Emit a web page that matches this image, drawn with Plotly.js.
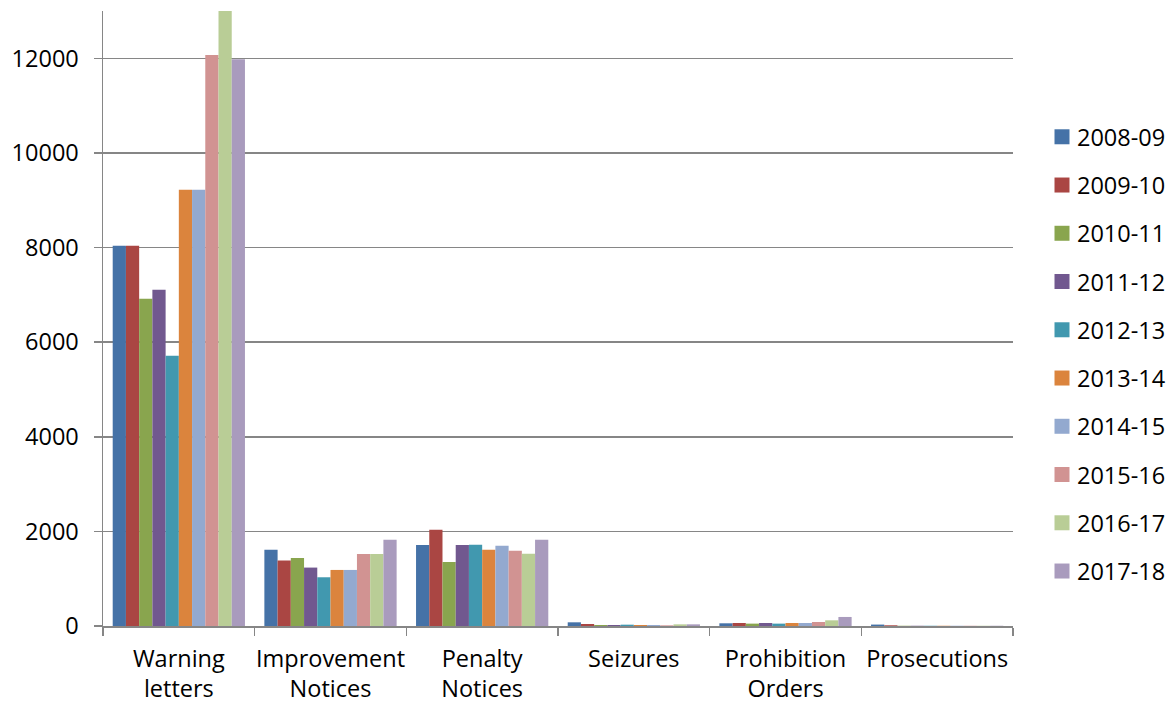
<!DOCTYPE html>
<html>
<head>
<meta charset="utf-8">
<script src="https://cdn.plot.ly/plotly-3.0.1.min.js"></script>
<style>html,body{margin:0;padding:0;background:#fff;}#chart{width:1173px;height:704px;}</style>
</head>
<body>
<div id="chart"></div>
<script>
// Categories (x axis tick labels)
var categories = ["Warning<br>letters", "Improvement<br>Notices", "Penalty<br>Notices", "Seizures", "Prohibition<br>Orders", "Prosecutions"];
// Series names
var years = ["2008-09", "2009-10", "2010-11", "2011-12", "2012-13", "2013-14", "2014-15", "2015-16", "2016-17", "2017-18"];
// Values per year, in category order
var v2008_09 = [8040, 1610, 1710, 78, 57, 30];
var v2009_10 = [8040, 1385, 2035, 42, 64, 15];
var v2010_11 = [6920, 1440, 1355, 21, 50, 5];
var v2011_12 = [7110, 1235, 1710, 21, 64, 5];
var v2012_13 = [5710, 1030, 1715, 28, 50, 5];
var v2013_14 = [9220, 1185, 1610, 21, 64, 5];
var v2014_15 = [9220, 1185, 1695, 21, 64, 5];
var v2015_16 = [12070, 1520, 1590, 14, 85, 5];
var v2016_17 = [13300, 1520, 1525, 35, 120, 5];
var v2017_18 = [11980, 1825, 1825, 35, 191, 5];
// Y axis ticks
var yTicks = [0, 2000, 4000, 6000, 8000, 10000, 12000];

var seriesValues = [v2008_09, v2009_10, v2010_11, v2011_12, v2012_13, v2013_14, v2014_15, v2015_16, v2016_17, v2017_18];
var colors = ["#4572A7", "#AA4643", "#89A54E", "#71588F", "#4198AF", "#DB843D", "#93A9CF", "#D19392", "#B9CD96", "#A99BBD"];

var font = "Open Sans, Liberation Sans, sans-serif";
var fs = 23.5;

var traces = years.map(function (yr, i) {
  return {
    type: "bar",
    name: yr,
    x: categories,
    y: seriesValues[i],
    legendgroup: yr,
    marker: { color: colors[i], line: { width: 0 } },
    hoverinfo: "x+y+name"
  };
});

var layout = {
  width: 1173,
  height: 704,
  paper_bgcolor: "#fff",
  plot_bgcolor: "#fff",
  margin: { l: 103, r: 160, t: 11, b: 78, pad: 0 },
  barmode: "group",
  bargap: 0.128,
  bargroupgap: 0,
  font: { family: font, size: fs, color: "#000" },
  showlegend: true,
  legend: {
    xref: "container",
    yref: "container",
    x: 1037 / 1173,
    y: 1 - 115 / 704,
    xanchor: "left",
    yanchor: "top",
    maxheight: 700,
    tracegroupgap: 14.7,
    font: { family: font, size: fs, color: "#000" },
    bgcolor: "rgba(0,0,0,0)",
    borderwidth: 0
  },
  xaxis: {
    type: "category",
    showgrid: false,
    showline: true,
    linecolor: "#868686",
    linewidth: 1.5,
    ticks: "outside",
    tickson: "boundaries",
    tickangle: 0,
    ticklen: 8,
    tickwidth: 1.5,
    tickcolor: "#868686",
    ticklabelstandoff: 11,
    tickfont: { family: font, size: fs, color: "#000" },
    zeroline: false
  },
  yaxis: {
    range: [0, 13000],
    tickvals: yTicks,
    ticktext: yTicks.map(String),
    showgrid: true,
    gridcolor: "#868686",
    gridwidth: 1.5,
    showline: true,
    linecolor: "#868686",
    linewidth: 1.5,
    ticks: "outside",
    ticklen: 8,
    tickwidth: 1.5,
    tickcolor: "#868686",
    ticklabelstandoff: 10,
    tickfont: { family: font, size: fs, color: "#000" },
    zeroline: false,
    fixedrange: true
  }
};

Plotly.newPlot("chart", traces, layout, { displayModeBar: false, staticPlot: true }).then(function (gd) {
  var pts = gd.querySelectorAll(".legend .legendpoints path");
  pts.forEach(function (p) {
    p.setAttribute("d", "M12.5,7.5H-2.5V-7.5H12.5Z");
  });
});
</script>
</body>
</html>
